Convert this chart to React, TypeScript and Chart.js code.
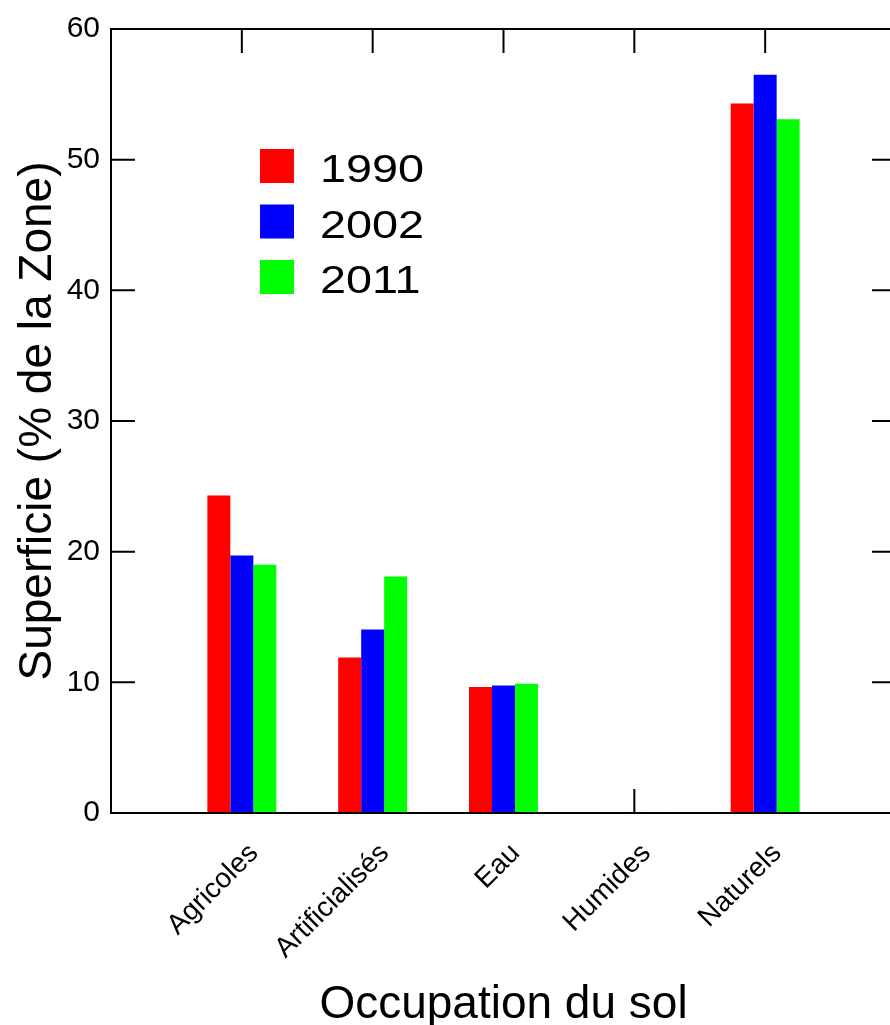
import React, { useEffect, useRef } from 'react';
import { Chart, registerables } from 'chart.js';

Chart.register(...registerables);

const categories = ['Agricoles', 'Artificialisés', 'Eau', 'Humides', 'Naturels'];
const years = ['1990', '2002', '2011'];
const values1990 = [24.3, 11.9, 9.65, 0.08, 54.3];
const values2002 = [19.7, 14.05, 9.75, 0.08, 56.5];
const values2011 = [19.0, 18.1, 9.9, 0.08, 53.1];
const seriesValues = [values1990, values2002, values2011];
const colors = ['#ff0000', '#0000ff', '#00ff00'];
const yTicks = [0, 10, 20, 30, 40, 50, 60];

const FONT = "'Liberation Sans', Arial, Helvetica, sans-serif";

const framePlugin = {
  id: 'frame',
  beforeDatasetsDraw(chart: any) {
    const { ctx, chartArea: a, scales } = chart;
    const x = scales.x;
    const y = scales.y;
    const L = 24;
    ctx.save();
    ctx.strokeStyle = '#000';
    ctx.lineWidth = 2;
    ctx.beginPath();
    yTicks.forEach((v) => {
      const py = y.getPixelForValue(v);
      ctx.moveTo(a.left, py);
      ctx.lineTo(a.left + L, py);
      ctx.moveTo(a.right, py);
      ctx.lineTo(a.right - L, py);
    });
    categories.forEach((_c, i) => {
      const px = x.getPixelForValue(i + 1);
      ctx.moveTo(px, a.top);
      ctx.lineTo(px, a.top + L);
      ctx.moveTo(px, a.bottom);
      ctx.lineTo(px, a.bottom - L);
    });
    ctx.stroke();
    ctx.restore();
  },
  afterDatasetsDraw(chart: any) {
    const { ctx, chartArea: a } = chart;
    ctx.save();
    ctx.strokeStyle = '#000';
    ctx.lineWidth = 2;
    ctx.strokeRect(a.left, a.top, a.right - a.left, a.bottom - a.top);
    ctx.restore();
  },
};

const legendPlugin = {
  id: 'innerLegend',
  afterDraw(chart: any) {
    const { ctx } = chart;
    const boxX = 260;
    const boxTop = 149;
    const boxSize = 34;
    const rowGap = 55.5;
    const textX = 320;
    ctx.save();
    chart.data.datasets.forEach((ds: any, i: number) => {
      const top = boxTop + i * rowGap;
      ctx.fillStyle = ds.backgroundColor;
      ctx.fillRect(boxX, top, boxSize, boxSize);
      ctx.save();
      ctx.translate(textX, top + 33);
      ctx.scale(1.2, 1);
      ctx.fillStyle = '#000';
      ctx.font = `39px ${FONT}`;
      ctx.textAlign = 'left';
      ctx.textBaseline = 'alphabetic';
      ctx.fillText(ds.label, 0, 0);
      ctx.restore();
    });
    ctx.restore();
  },
};

export default function App() {
  const canvasRef = useRef<HTMLCanvasElement | null>(null);

  useEffect(() => {
    const canvas = canvasRef.current;
    if (!canvas) return;
    const labels = ['', ...categories, ''];
    const chart = new Chart(canvas, {
      type: 'bar',
      data: {
        labels,
        datasets: years.map((yr, i) => ({
          label: yr,
          data: [null, ...seriesValues[i], null],
          backgroundColor: colors[i],
          borderWidth: 0,
          categoryPercentage: 0.527,
          barPercentage: 1,
        })),
      },
      options: {
        responsive: false,
        animation: false,
        devicePixelRatio: 1,
        layout: { padding: { top: 29, right: 4, left: 0, bottom: 0 } },
        plugins: {
          legend: { display: false },
          tooltip: { enabled: false },
        },
        scales: {
          x: {
            type: 'category',
            offset: false,
            grid: { display: false, drawTicks: false },
            border: { display: false },
            ticks: {
              autoSkip: false,
              minRotation: 45,
              maxRotation: 45,
              labelOffset: 12,
              padding: 24,
              color: '#000',
              font: { family: FONT, size: 28 },
            },
            title: {
              display: true,
              text: 'Occupation du sol',
              color: '#000',
              font: { family: FONT, size: 46 },
              padding: { top: 0, bottom: 7 },
            },
            afterFit(scale: any) {
              scale.height = 1040 - 813;
              scale.paddingLeft = 0;
              scale.paddingRight = 0;
            },
          },
          y: {
            min: 0,
            max: 60,
            grid: { display: false, drawTicks: false },
            border: { display: false },
            ticks: {
              stepSize: 10,
              padding: 11,
              color: '#000',
              font: { family: FONT, size: 30 },
            },
            title: {
              display: true,
              text: 'Superficie (% de la Zone)',
              color: '#000',
              font: { family: FONT, size: 46 },
              padding: { top: 11, bottom: 0 },
            },
            afterFit(scale: any) {
              scale.width = 111;
              scale.paddingTop = 0;
              scale.paddingBottom = 0;
            },
          },
        },
      },
      plugins: [framePlugin, legendPlugin],
    });
    return () => chart.destroy();
  }, []);

  return (
    <div
      style={{
        position: 'absolute',
        left: 0,
        top: 0,
        width: 890,
        height: 1025,
        overflow: 'hidden',
        background: '#fff',
      }}
    >
      <canvas ref={canvasRef} width={900} height={1040} style={{ display: 'block' }} />
    </div>
  );
}
